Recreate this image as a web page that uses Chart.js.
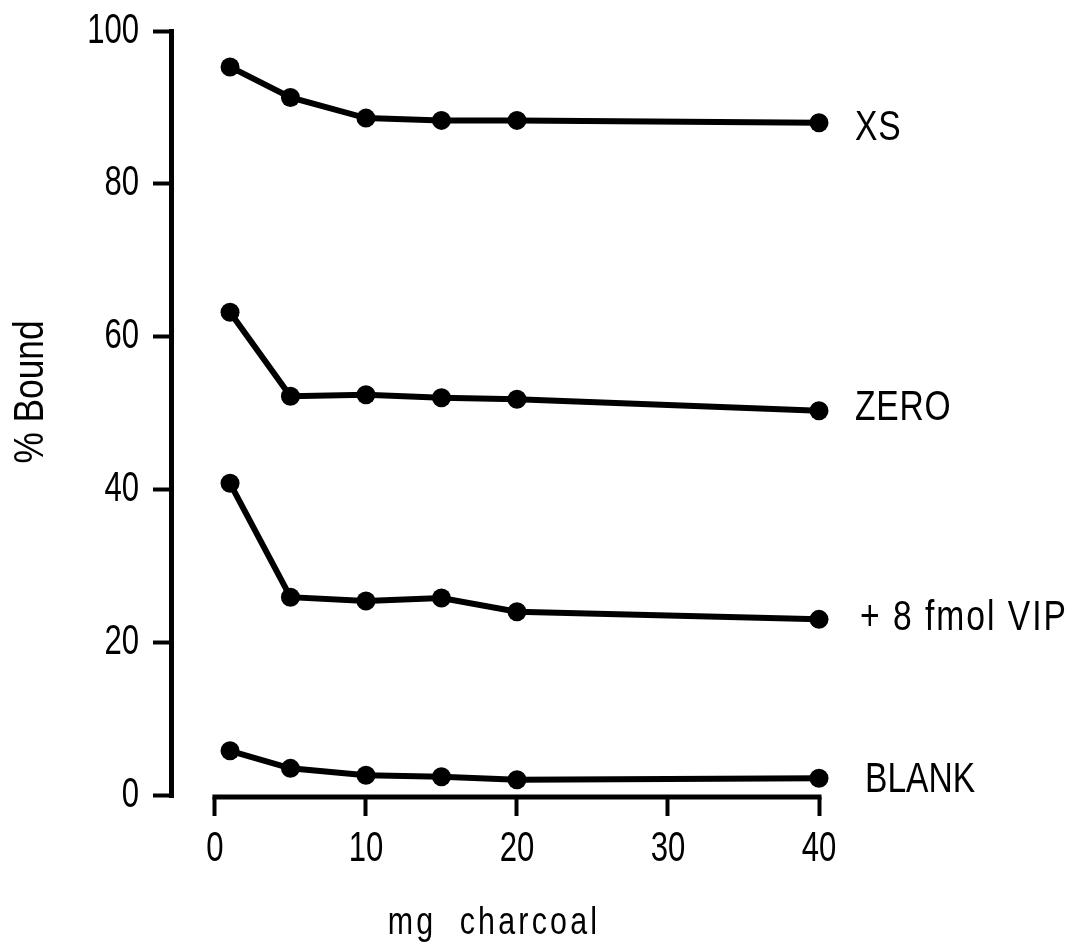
<!DOCTYPE html>
<html>
<head>
<meta charset="utf-8">
<script src="https://cdn.jsdelivr.net/npm/chart.js@4.4.1/dist/chart.umd.min.js"></script>
<style>
  html, body { margin: 0; padding: 0; background: #fff; }
  #wrap { width: 1079px; height: 945px; position: relative; }
</style>
</head>
<body>
<div id="wrap"><canvas id="c"></canvas></div>
<script>
// ---- data ----
const doses = [1, 5, 10, 15, 20, 40];            // mg charcoal
const xsBound = [95.3, 91.3, 88.6, 88.3, 88.3, 88.0];
const zeroBound = [63.2, 52.2, 52.4, 52.0, 51.8, 50.3];
const vipBound = [40.8, 25.9, 25.4, 25.8, 24.0, 23.0];
const blankBound = [5.8, 3.5, 2.6, 2.4, 2.0, 2.2];
const seriesNames = ['XS', 'ZERO', '+ 8 fmol VIP', 'BLANK'];
const xTickValues = [0, 10, 20, 30, 40];
const yTickValues = [0, 20, 40, 60, 80, 100];
const xTitle = 'mg  charcoal';
const yTitle = '% Bound';

const FAMILY = '"Liberation Sans", Arial, sans-serif';
const TICK_SQUEEZE = 0.74;

const seriesValues = [xsBound, zeroBound, vipBound, blankBound];
const labelDx = [36, 36, 41, 46];
const labelDy = [17, 9, 11, 14];
const labelSpacing = ['1px', '1px', '2.5px', '0px'];

function pts(vals) { return doses.map((d, i) => ({ x: d, y: vals[i] })); }

const datasets = seriesValues.map((vals, i) => ({
  label: seriesNames[i],
  data: pts(vals),
  showLine: true,
  clip: false,
  borderColor: '#000',
  backgroundColor: '#000',
  borderWidth: 6,
  pointRadius: 9.5,
  pointBorderWidth: 0,
  pointBackgroundColor: '#000',
  tension: 0
}));

// draw text narrowed horizontally (condensed look of the original typeface)
function condensedText(ctx, text, x, y, size, squeeze, spacing, align, baseline, angle) {
  ctx.save();
  ctx.font = size + 'px ' + FAMILY;
  ctx.letterSpacing = spacing || '0px';
  ctx.textAlign = align;
  ctx.textBaseline = baseline;
  ctx.translate(x, y);
  if (angle) ctx.rotate(angle);
  ctx.scale(squeeze, 1);
  ctx.fillText(text, 0, 0);
  ctx.restore();
}

// tick labels drawn by Chart.js, horizontally condensed while the scales draw
const condenseTicks = {
  id: 'condenseTicks',
  beforeDraw(chart) {
    const ctx = chart.ctx;
    const orig = CanvasRenderingContext2D.prototype.fillText;
    ctx.fillText = function (t, x, y) {
      this.save();
      this.translate(x, y);
      this.scale(TICK_SQUEEZE, 1);
      orig.call(this, t, 0, 0);
      this.restore();
    };
  },
  beforeDatasetsDraw(chart) {
    delete chart.ctx.fillText;
  }
};

const annotate = {
  id: 'annotate',
  afterDraw(chart) {
    const ctx = chart.ctx;
    const xs = chart.scales.x, ys = chart.scales.y;
    const ca = chart.chartArea;
    ctx.save();
    // x axis line (starts at 0, not at the y axis)
    ctx.strokeStyle = '#000';
    ctx.lineWidth = 5;
    ctx.lineCap = 'square';
    ctx.beginPath();
    ctx.moveTo(xs.getPixelForValue(0), ca.bottom);
    ctx.lineTo(xs.getPixelForValue(40), ca.bottom);
    ctx.stroke();
    ctx.fillStyle = '#000';

    // series end labels
    seriesValues.forEach((vals, i) => {
      const x = xs.getPixelForValue(doses[doses.length - 1]) + labelDx[i];
      const y = ys.getPixelForValue(vals[vals.length - 1]) + labelDy[i];
      condensedText(ctx, seriesNames[i], x, y, 42, 0.8, labelSpacing[i], 'left', 'alphabetic');
    });

    // axis titles
    condensedText(ctx, xTitle, 494, 934, 38, 0.8, '4px', 'center', 'alphabetic');
    condensedText(ctx, yTitle, 43, 392, 42, 0.84, '0px', 'center', 'alphabetic', -Math.PI / 2);
    ctx.restore();
  }
};

new Chart(document.getElementById('c'), {
  type: 'scatter',
  data: { datasets },
  options: {
    responsive: true,
    maintainAspectRatio: false,
    animation: false,
    devicePixelRatio: 1,
    layout: { padding: { left: 0, top: 31, right: 260, bottom: 0 } },
    plugins: { legend: { display: false }, tooltip: { enabled: false } },
    scales: {
      x: {
        type: 'linear',
        min: -2.91,
        max: 40,
        afterBuildTicks(scale) { scale.ticks = xTickValues.map(v => ({ value: v })); },
        afterFit(scale) { scale.height = 945 - 797; scale.paddingLeft = 0; scale.paddingRight = 0; },
        border: { display: false },
        grid: { drawOnChartArea: false, drawTicks: true, tickLength: 19, tickWidth: 4, tickColor: '#000' },
        ticks: { color: '#000', padding: 8, font: { family: FAMILY, size: 42 } }
      },
      y: {
        type: 'linear',
        min: -0.25,
        max: 100,
        afterBuildTicks(scale) { scale.ticks = yTickValues.map(v => ({ value: v })); },
        afterFit(scale) { scale.width = 171; scale.paddingTop = 0; scale.paddingBottom = 0; },
        border: { display: true, color: '#000', width: 5 },
        grid: { drawOnChartArea: false, drawTicks: true, tickLength: 18, tickWidth: 4, tickColor: '#000' },
        ticks: { color: '#000', padding: 14, font: { family: FAMILY, size: 42 } }
      }
    }
  },
  plugins: [condenseTicks, annotate]
});
</script>
</body>
</html>
